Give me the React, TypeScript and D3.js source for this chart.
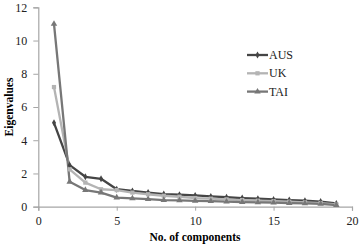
import React, { useRef, useEffect } from 'react';
import * as d3 from 'd3';

const components = [1, 2, 3, 4, 5, 6, 7, 8, 9, 10, 11, 12, 13, 14, 15, 16, 17, 18, 19];
const aus = [5.05, 2.5, 1.8, 1.68, 1.05, 0.95, 0.85, 0.76, 0.72, 0.68, 0.62, 0.57, 0.52, 0.48, 0.44, 0.4, 0.36, 0.31, 0.2];
const uk = [7.2, 2.25, 1.45, 1.05, 1.0, 0.85, 0.75, 0.66, 0.6, 0.52, 0.48, 0.44, 0.4, 0.36, 0.33, 0.3, 0.26, 0.22, 0.14];
const tai = [11.0, 1.5, 1.0, 0.85, 0.55, 0.5, 0.45, 0.4, 0.38, 0.35, 0.33, 0.3, 0.28, 0.26, 0.24, 0.22, 0.2, 0.17, 0.1];
const xTicks = [0, 5, 10, 15, 20];
const yTicks = [0, 2, 4, 6, 8, 10, 12];

const seriesNames = ['AUS', 'UK', 'TAI'];
const seriesColors = ['#454545', '#b4b4b4', '#777777'];

const Chart = () => {
    const ref = useRef<SVGSVGElement>(null);

    useEffect(() => {
        const svg = d3.select(ref.current);
        svg.selectAll('*').remove();

        const left = 38.3, right = 352, top = 7.3, bottom = 206.7;
        const font = '"Liberation Serif", "Times New Roman", serif';

        const x = d3.scaleLinear().domain([0, 20]).range([left, right]);
        const y = d3.scaleLinear().domain([0, 12]).range([bottom, top]);

        const yAxis = svg.append('g')
            .attr('transform', `translate(${left},0)`)
            .call(d3.axisLeft(y).tickValues(yTicks).tickSize(5).tickPadding(6));
        const xAxis = svg.append('g')
            .attr('transform', `translate(0,${bottom})`)
            .call(d3.axisBottom(x).tickValues(xTicks).tickSize(4).tickPadding(6));

        [xAxis, yAxis].forEach(a => {
            a.select('.domain').attr('stroke', '#a6a6a6').attr('stroke-width', 1.2);
            a.selectAll('.tick line').attr('stroke', '#a6a6a6');
            a.selectAll('.tick text')
                .attr('fill', '#222')
                .style('font-family', font)
                .style('font-size', '12px');
        });

        const data = [aus, uk, tai];
        const line = d3.line<number>()
            .x((_, i) => x(components[i]))
            .y(d => y(d));

        data.forEach((vals, s) => {
            svg.append('path')
                .datum(vals)
                .attr('fill', 'none')
                .attr('stroke', seriesColors[s])
                .attr('stroke-width', 2.3)
                .attr('stroke-linejoin', 'round')
                .attr('d', line);
        });

        const symbols = [d3.symbolDiamond, d3.symbolSquare, d3.symbolTriangle];
        const sizes = [14, 18, 18];
        const drawMarker = (g: any, s: number, cx: number, cy: number) => {
            g.append('path')
                .attr('d', d3.symbol(symbols[s], sizes[s])())
                .attr('transform', `translate(${cx},${cy})`)
                .attr('fill', seriesColors[s]);
        };

        data.forEach((vals, s) => {
            const g = svg.append('g');
            vals.forEach((v, i) => drawMarker(g, s, x(components[i]), y(v)));
        });

        // legend
        seriesNames.forEach((name, s) => {
            const ly = 55 + s * 18.3;
            svg.append('line')
                .attr('x1', 247).attr('x2', 268)
                .attr('y1', ly).attr('y2', ly)
                .attr('stroke', seriesColors[s])
                .attr('stroke-width', 2.3);
            drawMarker(svg, s, 257.5, ly);
            svg.append('text')
                .attr('x', 269)
                .attr('y', ly + 4)
                .attr('fill', '#222')
                .style('font-family', font)
                .style('font-size', '12px')
                .text(name);
        });

        svg.append('text')
            .attr('x', 195)
            .attr('y', 241)
            .attr('text-anchor', 'middle')
            .style('font-family', font)
            .style('font-size', '11.5px')
            .style('font-weight', 'bold')
            .text('No. of components');

        svg.append('text')
            .attr('transform', `translate(13,${(top + bottom) / 2}) rotate(-90)`)
            .attr('text-anchor', 'middle')
            .style('font-family', font)
            .style('font-size', '11.5px')
            .style('font-weight', 'bold')
            .text('Eigenvalues');
    }, []);

    return <svg ref={ref} width={360} height={245} style={{ display: 'block' }} />;
};

export default function App() {
    return (
        <div style={{ position: 'absolute', left: 0, top: 0, background: '#fff' }}>
            <Chart />
        </div>
    );
}
